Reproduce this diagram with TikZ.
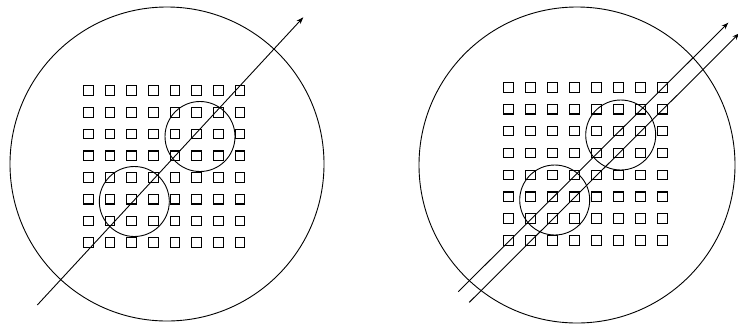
\documentclass[tikz,border=0pt]{standalone}
\usetikzlibrary{arrows.meta}
\begin{document}
\begin{tikzpicture}[x=1pt,y=-1pt,
  cell/.style={draw,line width=1.1pt,minimum size=9.6pt,inner sep=0pt,outer sep=0pt},
  ring/.style={draw,line width=0.9pt},
  ray/.style={draw,line width=0.9pt,-{Stealth[length=7pt,width=5pt]}}]
\useasboundingbox (0,0) rectangle (738,325);
\clip (0,0) rectangle (738,325);
% ---------- left panel ----------
\draw[ring] (167,164) circle (157);
\foreach \i in {0,...,7}{
  \foreach \j in {0,...,7}{
    \node[cell] (L\i\j) at ({88.3+21.66*\i},{90.7+21.7*\j}) {};
  }
}
\draw[ring] (200,136.5) circle (35);
\draw[ring] (134.3,201.5) circle (35);
\coordinate (la) at (37.3,305);
\coordinate (lb) at (303.3,17.3);
\draw[ray] (la) -- (lb);
% ---------- right panel ----------
\draw[ring] (577,165) circle (158);
\foreach \i in {0,...,7}{
  \foreach \j in {0,...,7}{
    \node[cell] (R\i\j) at ({508.6+22.0*\i},{87.3+21.9*\j}) {};
  }
}
\draw[ring] (620.7,135) circle (35);
\draw[ring] (554.7,200) circle (35);
\coordinate (ra1) at (458.3,291.7);
\coordinate (rb1) at (728.3,22.7);
\coordinate (ra2) at (469.3,302.3);
\coordinate (rb2) at (739.3,33.3);
\draw[ray] (ra1) -- (rb1);
\draw[ray] (ra2) -- (rb2);
\end{tikzpicture}
\end{document}
